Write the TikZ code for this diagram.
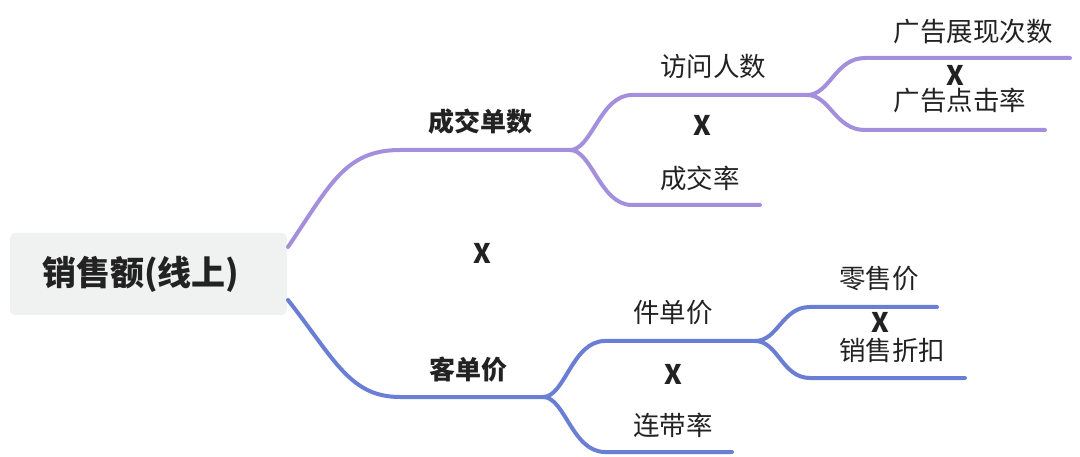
\documentclass[tikz,border=0pt]{standalone}
\usepackage{fontspec}
\setmainfont{Noto Sans CJK SC}
\usetikzlibrary{positioning}

\definecolor{lila}{RGB}{163,143,220}
\definecolor{blau}{RGB}{106,126,212}
\definecolor{rootgray}{RGB}{240,241,241}
\definecolor{ink}{RGB}{34,34,34}

\begin{document}
\begin{tikzpicture}[x=1pt, y=-1pt,
    root/.style={fill=rootgray, rounded corners=5pt, minimum height=82pt, text width=213pt, inner xsep=32pt, align=left, font=\fontsize{34}{38}\selectfont\bfseries, text=ink},
    lvl/.style={font=\fontsize{26}{28}\selectfont\bfseries, text=ink, inner sep=0pt},
    leaf/.style={font=\fontsize{26.5}{28}\selectfont, text=ink, inner sep=0pt},
    cross/.style={font=\fontsize{27}{30}\selectfont\bfseries, text=ink, inner sep=0pt},
    pline/.style={draw=lila, line width=4pt, line cap=round},
    bline/.style={draw=blau, line width=4pt, line cap=round}
]
\useasboundingbox (0,0) rectangle (1080,457);

% root
\node[root] (R) at (148.5,274) {销售额(线上)};

% junctions and line ends
\coordinate (r1) at (288,247);
\coordinate (r2) at (288,300);
\coordinate (a0) at (400,150);  \coordinate (a) at (570,150);
\coordinate (b0) at (632,95);   \coordinate (b) at (807,95);
\coordinate (c0) at (632,205);  \coordinate (c) at (760,205);
\coordinate (d0) at (865,58);   \coordinate (d) at (1070,58);
\coordinate (e0) at (865,130);  \coordinate (e) at (1045,130);
\coordinate (f0) at (400,397);  \coordinate (f) at (543,397);
\coordinate (g0) at (605,341);  \coordinate (g) at (755,341);
\coordinate (h0) at (605,452);  \coordinate (h) at (732,452);
\coordinate (i0) at (810,307);  \coordinate (i) at (937,307);
\coordinate (j0) at (810,378);  \coordinate (j) at (965,378);

% purple branch
\draw[pline] (r1) .. controls (330,185) and (345,150) .. (a0) -- (a);
\draw[pline] (a) .. controls (592,150) and (600,95) .. (b0) -- (b);
\draw[pline] (a) .. controls (592,150) and (600,205) .. (c0) -- (c);
\draw[pline] (b) .. controls (830,95) and (835,58) .. (d0) -- (d);
\draw[pline] (b) .. controls (830,95) and (835,130) .. (e0) -- (e);

% blue branch
\draw[bline] (r2) .. controls (335,360) and (350,397) .. (f0) -- (f);
\draw[bline] (f) .. controls (565,397) and (572,341) .. (g0) -- (g);
\draw[bline] (f) .. controls (565,397) and (572,452) .. (h0) -- (h);
\draw[bline] (g) .. controls (778,341) and (782,307) .. (i0) -- (i);
\draw[bline] (g) .. controls (778,341) and (782,378) .. (j0) -- (j);

% labels
\node[lvl] (n1) at (480,122) {成交单数};
\node[leaf] (n11) at (713,66) {访问人数};
\node[leaf] (n12) at (700,178) {成交率};
\node[leaf] (n111) at (973,32) {广告展现次数};
\node[leaf] (n112) at (960,100) {广告点击率};
\node[lvl] (n2) at (468,370) {客单价};
\node[leaf] (n21) at (673,313) {件单价};
\node[leaf] (n22) at (673,425) {连带率};
\node[leaf] (n211) at (879,279) {零售价};
\node[leaf] (n212) at (892,350) {销售折扣};

% multiplication marks
\node[cross] (x0) at (482,253) {X};
\node[cross] (x1) at (702,125) {X};
\node[cross] (x11) at (955,75) {X};
\node[cross] (x2) at (673,374) {X};
\node[cross] (x21) at (880,322) {X};
\end{tikzpicture}
\end{document}
